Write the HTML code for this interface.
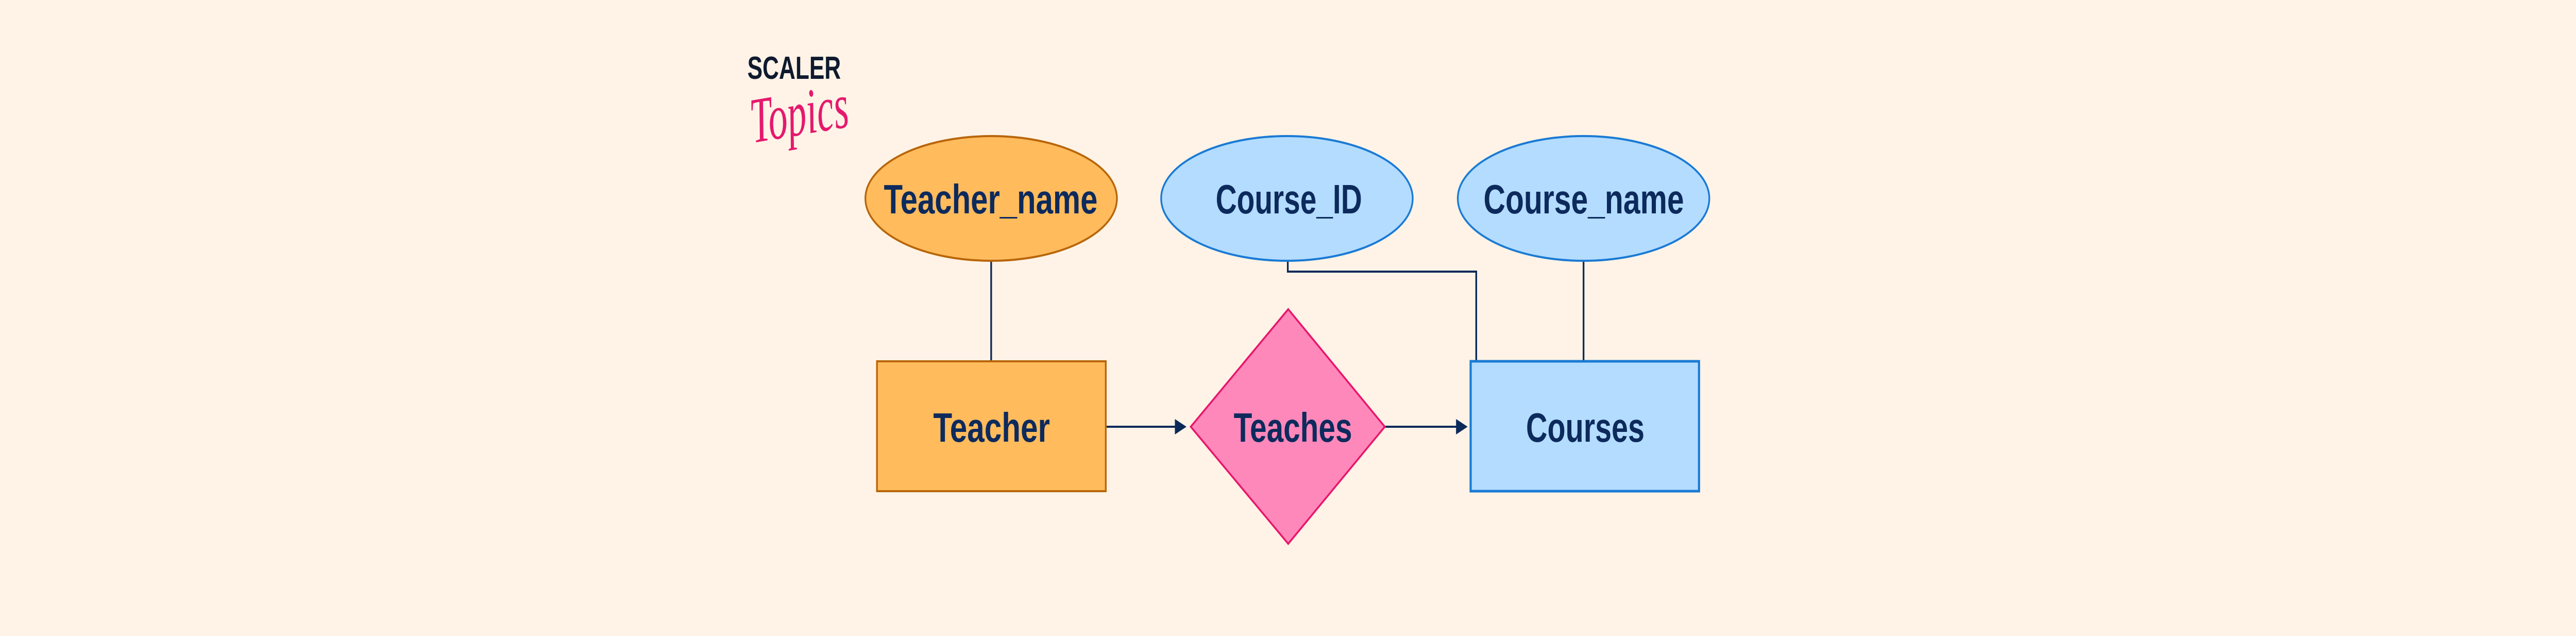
<!DOCTYPE html>
<html><head><meta charset="utf-8"><style>
html,body{margin:0;padding:0;background:#fef3e6;overflow:hidden;width:100%;height:100%;}
svg{display:block;width:100vw;height:100vh;}
</style></head><body>
<svg viewBox="0 0 6001 1234" preserveAspectRatio="none" xmlns="http://www.w3.org/2000/svg">
<rect width="6001" height="1234" fill="#fef3e6"/>
<!-- logo -->
<text x="1741" y="153" font-family="Liberation Sans, sans-serif" font-weight="bold" font-size="62" fill="#0f1a2e" textLength="218" lengthAdjust="spacingAndGlyphs">SCALER</text>
<text x="1748" y="262" font-family="Liberation Serif, serif" font-style="italic" font-size="125" fill="#e5196d" textLength="230" lengthAdjust="spacingAndGlyphs" transform="rotate(-8 1860 230)">Topics</text>

<!-- connectors -->
<g stroke="#0b2a5a" stroke-width="4" fill="none">
<line x1="2309" y1="507" x2="2309" y2="700"/>
<polyline points="3000,507 3000,527 3439,527 3439,700"/>
<line x1="3689" y1="507" x2="3689" y2="700"/>
<line x1="2577" y1="828" x2="2740" y2="828"/>
<line x1="3227" y1="828" x2="3395" y2="828"/>
</g>
<polygon points="2737,813 2764,828 2737,843" fill="#0b2a5a"/>
<polygon points="3392,813 3419,828 3392,843" fill="#0b2a5a"/>

<!-- shapes -->
<ellipse cx="2309" cy="385" rx="293" ry="121" fill="#ffbb5c" stroke="#b8660a" stroke-width="4"/>
<ellipse cx="2998" cy="385" rx="293" ry="121" fill="#b3dcff" stroke="#1a7ad4" stroke-width="4"/>
<ellipse cx="3689" cy="385" rx="293" ry="121" fill="#b3dcff" stroke="#1a7ad4" stroke-width="4"/>
<rect x="2043" y="701" width="533" height="252" fill="#ffbb5c" stroke="#b8660a" stroke-width="4"/>
<polygon points="3001,600 3226,828 3001,1055 2774,828" fill="#ff88bb" stroke="#e8186d" stroke-width="4"/>
<rect x="3426" y="701" width="532" height="252" fill="#b3dcff" stroke="#1a7ad4" stroke-width="5"/>

<g font-family="Liberation Sans, sans-serif" font-weight="bold" font-size="80" fill="#0d2a5c" lengthAdjust="spacingAndGlyphs">
<text x="2059" y="414" textLength="498" lengthAdjust="spacingAndGlyphs">Teacher_name</text>
<text x="2832" y="414" textLength="341" lengthAdjust="spacingAndGlyphs">Course_ID</text>
<text x="3456" y="414" textLength="467" lengthAdjust="spacingAndGlyphs">Course_name</text>
<text x="2174" y="857" textLength="272" lengthAdjust="spacingAndGlyphs">Teacher</text>
<text x="2874" y="857" textLength="276" lengthAdjust="spacingAndGlyphs">Teaches</text>
<text x="3555" y="857" textLength="276" lengthAdjust="spacingAndGlyphs">Courses</text>
</g>
</svg>
</body></html>
